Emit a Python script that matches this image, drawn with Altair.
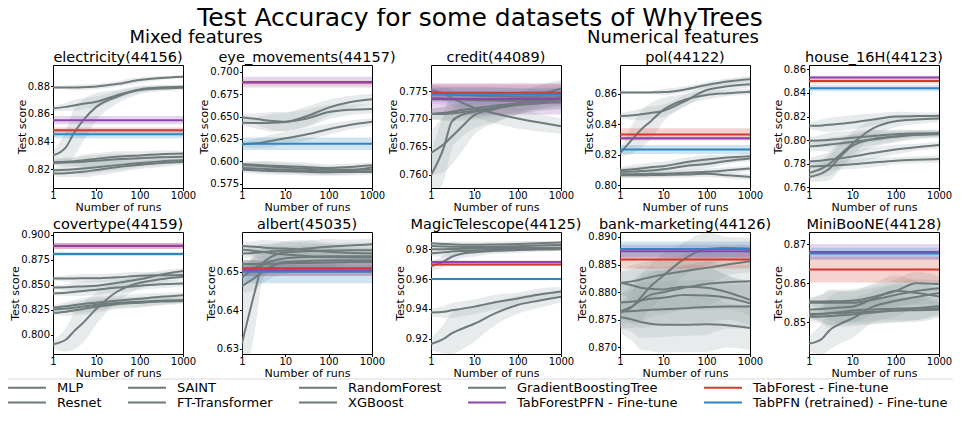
import altair as alt
import pandas as pd

FONT = "DejaVu Sans"
X_RUNS = [1, 2, 3, 5, 10, 30, 100, 300, 1000]
GRAY_MODELS = ["MLP", "Resnet", "SAINT", "FT-Transformer", "RandomForest", "XGBoost", "GradientBoostingTree"]
TAB_MODELS = ["TabForest - Fine-tune", "TabForestPFN - Fine-tune", "TabPFN (retrained) - Fine-tune"]
LEGEND_ORDER = ["MLP", "Resnet", "SAINT", "FT-Transformer", "RandomForest", "XGBoost",
                "GradientBoostingTree", "TabForestPFN - Fine-tune", "TabForest - Fine-tune",
                "TabPFN (retrained) - Fine-tune"]
GRAY = "#6e7a7b"
BAND_GRAY = "#95a5a6"
TAB_COLORS = ["#d0392b", "#8e44ad", "#2e86c1"]
LEGEND_COLORS = [GRAY] * 7 + [TAB_COLORS[1], TAB_COLORS[0], TAB_COLORS[2]]

TITLES = ["electricity(44156)", "eye_movements(44157)", "credit(44089)", "pol(44122)", "house_16H(44123)",
          "covertype(44159)", "albert(45035)", "MagicTelescope(44125)", "bank-marketing(44126)", "MiniBooNE(44128)"]

# ---------------- electricity
ELEC_MEAN = [
    [0.8790, 0.8790, 0.8790, 0.8792, 0.8797, 0.8815, 0.8843, 0.8858, 0.8867],
    [0.8639, 0.8650, 0.8660, 0.8672, 0.8687, 0.8735, 0.8776, 0.8790, 0.8795],
    [0.8300, 0.8360, 0.8458, 0.8554, 0.8650, 0.8723, 0.8771, 0.8782, 0.8788],
    [0.8253, 0.8255, 0.8258, 0.8265, 0.8275, 0.8290, 0.8300, 0.8308, 0.8313],
    [0.8246, 0.8248, 0.8250, 0.8255, 0.8262, 0.8272, 0.8280, 0.8286, 0.8290],
    [0.8193, 0.8196, 0.8200, 0.8205, 0.8215, 0.8230, 0.8245, 0.8257, 0.8265],
    [0.8169, 0.8172, 0.8176, 0.8182, 0.8195, 0.8215, 0.8232, 0.8245, 0.8253],
]
ELEC_HW = [
    [0.001, 0.0015, 0.002, 0.002, 0.002, 0.002, 0.002, 0.0015, 0.001],
    [0.002, 0.003, 0.004, 0.004, 0.004, 0.003, 0.002, 0.002, 0.0015],
    [0.003, 0.012, 0.017, 0.015, 0.010, 0.005, 0.003, 0.002, 0.002],
    [0.002, 0.003, 0.003, 0.004, 0.004, 0.004, 0.003, 0.003, 0.002],
    [0.002, 0.003, 0.003, 0.004, 0.004, 0.004, 0.003, 0.003, 0.002],
    [0.002, 0.003, 0.003, 0.004, 0.004, 0.004, 0.003, 0.003, 0.002],
    [0.002, 0.003, 0.003, 0.004, 0.004, 0.004, 0.003, 0.003, 0.002],
]
ELEC_TAB = [0.8482, 0.8554, 0.8453]
ELEC_TAB_HW = [0.002, 0.003, 0.003]
ELEC_DOMAIN = [0.8065, 0.8952]
ELEC_TICKS = [0.82, 0.84, 0.86, 0.88]

# ---------------- eye_movements
EYE_MEAN = [
    [0.6490, 0.6475, 0.6462, 0.6450, 0.6441, 0.6500, 0.6600, 0.6660, 0.6694],
    [0.6430, 0.6428, 0.6428, 0.6430, 0.6440, 0.6475, 0.6550, 0.6575, 0.6585],
    [0.6190, 0.6200, 0.6210, 0.6230, 0.6256, 0.6300, 0.6358, 0.6405, 0.6441],
    [0.5969, 0.5960, 0.5955, 0.5950, 0.5945, 0.5935, 0.5924, 0.5935, 0.5954],
    [0.5954, 0.5950, 0.5945, 0.5938, 0.5930, 0.5915, 0.5905, 0.5905, 0.5905],
    [0.5924, 0.5920, 0.5915, 0.5910, 0.5905, 0.5895, 0.5886, 0.5895, 0.5931],
    [0.5905, 0.5900, 0.5895, 0.5890, 0.5888, 0.5882, 0.5878, 0.5880, 0.5880],
]
EYE_HW = [
    [0.004, 0.006, 0.008, 0.010, 0.011, 0.011, 0.009, 0.007, 0.006],
    [0.004, 0.006, 0.008, 0.010, 0.010, 0.010, 0.008, 0.006, 0.005],
    [0.003, 0.005, 0.006, 0.007, 0.007, 0.007, 0.006, 0.005, 0.004],
    [0.003, 0.004, 0.005, 0.005, 0.005, 0.005, 0.004, 0.004, 0.003],
    [0.003, 0.004, 0.005, 0.005, 0.005, 0.005, 0.004, 0.004, 0.003],
    [0.003, 0.004, 0.004, 0.004, 0.004, 0.004, 0.004, 0.004, 0.003],
    [0.003, 0.004, 0.004, 0.004, 0.004, 0.004, 0.004, 0.004, 0.003],
]
EYE_TAB = [0.6879, 0.6885, 0.6196]
EYE_TAB_HW = [0.002, 0.006, 0.007]
EYE_DOMAIN = [0.5701, 0.7076]
EYE_TICKS = [0.575, 0.600, 0.625, 0.650, 0.675, 0.700]

# ---------------- credit
CREDIT_MEAN = [
    [0.7752, 0.7745, 0.7738, 0.7730, 0.7720, 0.7710, 0.7701, 0.7694, 0.7687],
    [0.7745, 0.7745, 0.7744, 0.7743, 0.7742, 0.7741, 0.7740, 0.7739, 0.7738],
    [0.7709, 0.7709, 0.7710, 0.7712, 0.7715, 0.7720, 0.7725, 0.7728, 0.7730],
    [0.7709, 0.7711, 0.7713, 0.7716, 0.7719, 0.7724, 0.7728, 0.7732, 0.7735],
    [0.7639, 0.7655, 0.7668, 0.7685, 0.7707, 0.7718, 0.7728, 0.7742, 0.7755],
    [0.7599, 0.7650, 0.7695, 0.7707, 0.7713, 0.7720, 0.7728, 0.7734, 0.7740],
    [0.7738, 0.7737, 0.7736, 0.7735, 0.7734, 0.7733, 0.7732, 0.7731, 0.7730],
]
CREDIT_HW = [
    [0.0010, 0.0012, 0.0014, 0.0015, 0.0016, 0.0018, 0.0018, 0.0016, 0.0014],
    [0.0010, 0.0012, 0.0014, 0.0015, 0.0016, 0.0016, 0.0015, 0.0014, 0.0012],
    [0.0010, 0.0012, 0.0014, 0.0015, 0.0016, 0.0016, 0.0015, 0.0014, 0.0012],
    [0.0010, 0.0012, 0.0014, 0.0015, 0.0016, 0.0016, 0.0015, 0.0014, 0.0012],
    [0.0040, 0.0050, 0.0050, 0.0045, 0.0035, 0.0025, 0.0020, 0.0018, 0.0015],
    [0.0040, 0.0060, 0.0050, 0.0040, 0.0030, 0.0025, 0.0020, 0.0018, 0.0015],
    [0.0010, 0.0012, 0.0014, 0.0015, 0.0016, 0.0016, 0.0015, 0.0014, 0.0012],
]
CREDIT_TAB = [0.7747, 0.7736, 0.7744]
CREDIT_TAB_HW = [0.0015, 0.0028, 0.0012]
CREDIT_DOMAIN = [0.7576, 0.7797]
CREDIT_TICKS = [0.760, 0.765, 0.770, 0.775]

# ---------------- pol
POL_MEAN = [
    [0.8609, 0.8609, 0.8609, 0.8610, 0.8612, 0.8628, 0.8659, 0.8682, 0.8697],
    [0.8455, 0.8460, 0.8466, 0.8475, 0.8490, 0.8550, 0.8626, 0.8650, 0.8664],
    [0.8209, 0.8308, 0.8363, 0.8418, 0.8495, 0.8560, 0.8593, 0.8605, 0.8615],
    [0.8099, 0.8105, 0.8110, 0.8118, 0.8125, 0.8150, 0.8169, 0.8182, 0.8191],
    [0.8088, 0.8090, 0.8093, 0.8097, 0.8105, 0.8125, 0.8140, 0.8160, 0.8176],
    [0.8073, 0.8073, 0.8074, 0.8075, 0.8076, 0.8082, 0.8088, 0.8098, 0.8110],
    [0.8066, 0.8066, 0.8066, 0.8067, 0.8068, 0.8070, 0.8075, 0.8065, 0.8055],
]
POL_HW = [
    [0.001, 0.001, 0.001, 0.001, 0.002, 0.002, 0.002, 0.002, 0.002],
    [0.002, 0.003, 0.004, 0.004, 0.004, 0.004, 0.003, 0.003, 0.002],
    [0.002, 0.010, 0.012, 0.012, 0.008, 0.004, 0.003, 0.002, 0.002],
    [0.002, 0.003, 0.003, 0.003, 0.003, 0.003, 0.003, 0.002, 0.002],
    [0.002, 0.003, 0.003, 0.003, 0.003, 0.003, 0.003, 0.002, 0.002],
    [0.002, 0.002, 0.002, 0.002, 0.002, 0.002, 0.002, 0.002, 0.002],
    [0.002, 0.002, 0.002, 0.002, 0.002, 0.002, 0.002, 0.002, 0.002],
]
POL_TAB = [0.8334, 0.8308, 0.8235]
POL_TAB_HW = [0.004, 0.001, 0.003]
POL_DOMAIN = [0.7982, 0.8790]
POL_TICKS = [0.80, 0.82, 0.84, 0.86]

# ---------------- house_16H
HOUSE_MEAN = [
    [0.8121, 0.8125, 0.8130, 0.8138, 0.8150, 0.8175, 0.8200, 0.8204, 0.8206],
    [0.7994, 0.7998, 0.8003, 0.8010, 0.8020, 0.8035, 0.8050, 0.8056, 0.8060],
    [0.7947, 0.7955, 0.7962, 0.7972, 0.7985, 0.8005, 0.8030, 0.8045, 0.8053],
    [0.7820, 0.7828, 0.7835, 0.7845, 0.7860, 0.7890, 0.7920, 0.7940, 0.7958],
    [0.7777, 0.7780, 0.7783, 0.7788, 0.7795, 0.7810, 0.7825, 0.7833, 0.7839],
    [0.7721, 0.7760, 0.7800, 0.7870, 0.7970, 0.8100, 0.8160, 0.8175, 0.8183],
    [0.7687, 0.7720, 0.7760, 0.7850, 0.7950, 0.8010, 0.8030, 0.8045, 0.8050],
]
HOUSE_HW = [
    [0.003, 0.005, 0.006, 0.006, 0.006, 0.005, 0.004, 0.003, 0.003],
    [0.003, 0.005, 0.006, 0.006, 0.006, 0.005, 0.004, 0.003, 0.003],
    [0.003, 0.005, 0.006, 0.006, 0.006, 0.005, 0.004, 0.003, 0.003],
    [0.003, 0.005, 0.006, 0.006, 0.006, 0.005, 0.004, 0.003, 0.003],
    [0.003, 0.004, 0.004, 0.004, 0.004, 0.004, 0.003, 0.003, 0.003],
    [0.004, 0.007, 0.010, 0.011, 0.010, 0.007, 0.005, 0.004, 0.003],
    [0.004, 0.007, 0.010, 0.011, 0.010, 0.007, 0.005, 0.004, 0.003],
]
HOUSE_TAB = [0.8501, 0.8530, 0.8440]
HOUSE_TAB_HW = [0.002, 0.0015, 0.0025]
HOUSE_DOMAIN = [0.7594, 0.8637]
HOUSE_TICKS = [0.76, 0.78, 0.80, 0.82, 0.84, 0.86]

# ---------------- covertype
COVER_MEAN = [
    [0.8564, 0.8564, 0.8564, 0.8565, 0.8566, 0.8575, 0.8590, 0.8595, 0.8597],
    [0.8473, 0.8476, 0.8480, 0.8484, 0.8490, 0.8520, 0.8555, 0.8600, 0.8638],
    [0.8413, 0.8420, 0.8428, 0.8438, 0.8450, 0.8472, 0.8490, 0.8505, 0.8513],
    [0.8272, 0.8285, 0.8295, 0.8308, 0.8320, 0.8340, 0.8360, 0.8380, 0.8396],
    [0.8252, 0.8262, 0.8270, 0.8282, 0.8300, 0.8318, 0.8330, 0.8340, 0.8346],
    [0.8218, 0.8230, 0.8242, 0.8258, 0.8280, 0.8305, 0.8320, 0.8332, 0.8338],
    [0.7903, 0.7950, 0.8030, 0.8120, 0.8260, 0.8430, 0.8520, 0.8555, 0.8580],
]
COVER_HW = [
    [0.002, 0.003, 0.004, 0.004, 0.004, 0.004, 0.004, 0.003, 0.003],
    [0.002, 0.003, 0.004, 0.005, 0.005, 0.005, 0.005, 0.004, 0.003],
    [0.002, 0.003, 0.004, 0.005, 0.005, 0.005, 0.004, 0.004, 0.003],
    [0.002, 0.004, 0.005, 0.006, 0.006, 0.005, 0.005, 0.004, 0.003],
    [0.002, 0.004, 0.005, 0.006, 0.006, 0.005, 0.005, 0.004, 0.003],
    [0.002, 0.004, 0.005, 0.006, 0.006, 0.005, 0.005, 0.004, 0.003],
    [0.004, 0.012, 0.018, 0.020, 0.016, 0.010, 0.006, 0.004, 0.003],
]
COVER_TAB = [0.8890, 0.8893, 0.8809]
COVER_TAB_HW = [0.003, 0.003, 0.002]
COVER_DOMAIN = [0.7805, 0.9030]
COVER_TICKS = [0.800, 0.825, 0.850, 0.875, 0.900]

# ---------------- albert
ALBERT_MEAN = [
    [0.6567, 0.6565, 0.6563, 0.6561, 0.6560, 0.6556, 0.6552, 0.6549, 0.6547],
    [0.6558, 0.6554, 0.6551, 0.6548, 0.6545, 0.6541, 0.6538, 0.6537, 0.6537],
    [0.6547, 0.6549, 0.6551, 0.6553, 0.6555, 0.6560, 0.6565, 0.6568, 0.6571],
    [0.6485, 0.6510, 0.6520, 0.6528, 0.6535, 0.6538, 0.6540, 0.6540, 0.6540],
    [0.6463, 0.6485, 0.6500, 0.6515, 0.6525, 0.6528, 0.6530, 0.6530, 0.6530],
    [0.6315, 0.6450, 0.6520, 0.6540, 0.6550, 0.6553, 0.6555, 0.6556, 0.6556],
    [0.6520, 0.6520, 0.6521, 0.6521, 0.6522, 0.6523, 0.6524, 0.6525, 0.6525],
]
ALBERT_HW = [
    [0.001, 0.0015, 0.002, 0.002, 0.002, 0.002, 0.002, 0.0015, 0.0015],
    [0.001, 0.0015, 0.002, 0.002, 0.002, 0.002, 0.002, 0.0015, 0.0015],
    [0.001, 0.0015, 0.002, 0.002, 0.002, 0.002, 0.002, 0.0015, 0.0015],
    [0.002, 0.003, 0.003, 0.003, 0.003, 0.003, 0.003, 0.002, 0.002],
    [0.002, 0.003, 0.003, 0.003, 0.003, 0.003, 0.003, 0.002, 0.002],
    [0.013, 0.010, 0.004, 0.003, 0.003, 0.003, 0.002, 0.002, 0.002],
    [0.001, 0.0015, 0.002, 0.002, 0.002, 0.002, 0.002, 0.0015, 0.0015],
]
ALBERT_TAB = [0.6509, 0.6504, 0.6500]
ALBERT_TAB_HW = [0.002, 0.0015, 0.003]
ALBERT_DOMAIN = [0.6287, 0.6603]
ALBERT_TICKS = [0.63, 0.64, 0.65]

# ---------------- MagicTelescope
MAGIC_MEAN = [
    [0.9840, 0.9836, 0.9833, 0.9831, 0.9830, 0.9832, 0.9835, 0.9840, 0.9845],
    [0.9822, 0.9819, 0.9817, 0.9816, 0.9815, 0.9817, 0.9820, 0.9825, 0.9829],
    [0.9800, 0.9801, 0.9802, 0.9803, 0.9805, 0.9808, 0.9810, 0.9811, 0.9811],
    [0.9773, 0.9780, 0.9785, 0.9788, 0.9790, 0.9798, 0.9805, 0.9808, 0.9810],
    [0.9685, 0.9720, 0.9750, 0.9770, 0.9780, 0.9790, 0.9795, 0.9798, 0.9800],
    [0.9375, 0.9380, 0.9390, 0.9400, 0.9415, 0.9445, 0.9470, 0.9495, 0.9516],
    [0.9164, 0.9200, 0.9236, 0.9265, 0.9300, 0.9370, 0.9426, 0.9455, 0.9482],
]
MAGIC_HW = [
    [0.001, 0.0015, 0.002, 0.002, 0.002, 0.002, 0.002, 0.0015, 0.001],
    [0.001, 0.0015, 0.002, 0.002, 0.002, 0.002, 0.002, 0.0015, 0.001],
    [0.001, 0.0015, 0.002, 0.002, 0.002, 0.002, 0.002, 0.0015, 0.001],
    [0.002, 0.003, 0.003, 0.003, 0.002, 0.002, 0.002, 0.0015, 0.001],
    [0.003, 0.004, 0.004, 0.003, 0.003, 0.002, 0.002, 0.0015, 0.001],
    [0.003, 0.004, 0.005, 0.005, 0.005, 0.005, 0.004, 0.004, 0.003],
    [0.004, 0.010, 0.014, 0.014, 0.012, 0.008, 0.006, 0.005, 0.004],
]
MAGIC_TAB = [0.9697, 0.9715, 0.9600]
MAGIC_TAB_HW = [0.001, 0.001, 0.0008]
MAGIC_DOMAIN = [0.9097, 0.9916]
MAGIC_TICKS = [0.92, 0.94, 0.96, 0.98]

# ---------------- bank-marketing
BANK_MEAN = [
    [0.8817, 0.8812, 0.8808, 0.8806, 0.8805, 0.8810, 0.8808, 0.8800, 0.8786],
    [0.8817, 0.8820, 0.8823, 0.8827, 0.8832, 0.8838, 0.8844, 0.8850, 0.8856],
    [0.8763, 0.8775, 0.8790, 0.8810, 0.8830, 0.8860, 0.8878, 0.8880, 0.8879],
    [0.8781, 0.8783, 0.8785, 0.8788, 0.8790, 0.8795, 0.8794, 0.8790, 0.8780],
    [0.8765, 0.8766, 0.8767, 0.8768, 0.8769, 0.8771, 0.8773, 0.8774, 0.8774],
    [0.8755, 0.8750, 0.8746, 0.8743, 0.8741, 0.8741, 0.8742, 0.8740, 0.8735],
    [0.8765, 0.8775, 0.8785, 0.8795, 0.8800, 0.8808, 0.8815, 0.8818, 0.8820],
]
BANK_HW = [
    [0.002, 0.003, 0.004, 0.004, 0.004, 0.004, 0.004, 0.003, 0.003],
    [0.002, 0.003, 0.003, 0.003, 0.003, 0.003, 0.003, 0.002, 0.002],
    [0.002, 0.003, 0.004, 0.004, 0.004, 0.003, 0.003, 0.002, 0.002],
    [0.003, 0.004, 0.005, 0.005, 0.005, 0.005, 0.005, 0.004, 0.004],
    [0.003, 0.004, 0.005, 0.005, 0.005, 0.005, 0.005, 0.004, 0.004],
    [0.003, 0.004, 0.005, 0.005, 0.005, 0.005, 0.005, 0.004, 0.004],
    [0.003, 0.004, 0.004, 0.004, 0.004, 0.004, 0.004, 0.003, 0.003],
]
BANK_TAB = [0.8859, 0.8874, 0.8878]
BANK_TAB_HW = [0.0016, 0.0012, 0.0014]
BANK_DOMAIN = [0.8688, 0.8909]
BANK_TICKS = [0.870, 0.875, 0.880, 0.885, 0.890]

# ---------------- MiniBooNE
MINI_MEAN = [
    [0.8553, 0.8553, 0.8554, 0.8554, 0.8555, 0.8565, 0.8580, 0.8600, 0.8598],
    [0.8550, 0.8550, 0.8550, 0.8550, 0.8550, 0.8558, 0.8570, 0.8580, 0.8587],
    [0.8533, 0.8534, 0.8536, 0.8538, 0.8540, 0.8560, 0.8580, 0.8575, 0.8566],
    [0.8521, 0.8522, 0.8523, 0.8524, 0.8525, 0.8527, 0.8530, 0.8536, 0.8542],
    [0.8519, 0.8521, 0.8523, 0.8526, 0.8530, 0.8533, 0.8535, 0.8536, 0.8536],
    [0.8514, 0.8515, 0.8516, 0.8518, 0.8520, 0.8525, 0.8530, 0.8531, 0.8532],
    [0.8445, 0.8458, 0.8480, 0.8495, 0.8510, 0.8540, 0.8555, 0.8565, 0.8575],
]
MINI_HW = [
    [0.001, 0.002, 0.003, 0.003, 0.003, 0.003, 0.003, 0.003, 0.002],
    [0.001, 0.002, 0.003, 0.003, 0.003, 0.003, 0.003, 0.003, 0.002],
    [0.001, 0.002, 0.003, 0.004, 0.004, 0.004, 0.004, 0.003, 0.002],
    [0.001, 0.002, 0.003, 0.003, 0.003, 0.003, 0.003, 0.003, 0.002],
    [0.001, 0.002, 0.003, 0.003, 0.003, 0.003, 0.003, 0.003, 0.002],
    [0.001, 0.002, 0.003, 0.003, 0.003, 0.003, 0.003, 0.003, 0.002],
    [0.002, 0.004, 0.005, 0.005, 0.005, 0.004, 0.004, 0.003, 0.003],
]
MINI_TAB = [0.8635, 0.8680, 0.8676]
MINI_TAB_HW = [0.0033, 0.002, 0.0015]
MINI_DOMAIN = [0.8419, 0.8731]
MINI_TICKS = [0.85, 0.86, 0.87]

PANELS = [
    (ELEC_MEAN, ELEC_HW, ELEC_TAB, ELEC_TAB_HW, ELEC_DOMAIN, ELEC_TICKS, ".2f"),
    (EYE_MEAN, EYE_HW, EYE_TAB, EYE_TAB_HW, EYE_DOMAIN, EYE_TICKS, ".3f"),
    (CREDIT_MEAN, CREDIT_HW, CREDIT_TAB, CREDIT_TAB_HW, CREDIT_DOMAIN, CREDIT_TICKS, ".3f"),
    (POL_MEAN, POL_HW, POL_TAB, POL_TAB_HW, POL_DOMAIN, POL_TICKS, ".2f"),
    (HOUSE_MEAN, HOUSE_HW, HOUSE_TAB, HOUSE_TAB_HW, HOUSE_DOMAIN, HOUSE_TICKS, ".2f"),
    (COVER_MEAN, COVER_HW, COVER_TAB, COVER_TAB_HW, COVER_DOMAIN, COVER_TICKS, ".3f"),
    (ALBERT_MEAN, ALBERT_HW, ALBERT_TAB, ALBERT_TAB_HW, ALBERT_DOMAIN, ALBERT_TICKS, ".2f"),
    (MAGIC_MEAN, MAGIC_HW, MAGIC_TAB, MAGIC_TAB_HW, MAGIC_DOMAIN, MAGIC_TICKS, ".2f"),
    (BANK_MEAN, BANK_HW, BANK_TAB, BANK_TAB_HW, BANK_DOMAIN, BANK_TICKS, ".3f"),
    (MINI_MEAN, MINI_HW, MINI_TAB, MINI_TAB_HW, MINI_DOMAIN, MINI_TICKS, ".2f"),
]

MAIN_TITLE = "Test Accuracy for some datasets of WhyTrees"
GROUP_TITLES = ["Mixed features", "Numerical features"]

PANEL_W = 130
ROW_H = [123, 122]

color_scale = alt.Scale(domain=LEGEND_ORDER, range=LEGEND_COLORS)
legend = alt.Legend(orient="none", legendX=-45, legendY=316, columns=5, title=None, direction="vertical",
                    symbolType="M-4,0H4", symbolSize=90.25, symbolStrokeWidth=2, symbolOffset=12.5,
                    labelFontSize=13, labelFont=FONT, labelColor="black", labelOffset=23.5,
                    columnPadding=22, rowPadding=1, padding=0, labelLimit=400)
fill_scale = alt.Scale(domain=TAB_MODELS, range=TAB_COLORS)


def text_layer(txt, x, y, size):
    return alt.Chart(pd.DataFrame({"t": [txt]})).mark_text(
        font=FONT, fontSize=size, color="black", align="center", baseline="alphabetic").encode(
        text="t:N", x=alt.value(x), y=alt.value(y))


def make_panel(title, spec, height, extra=()):
    means, hws, tab, tab_hw, domain, ticks, fmt = spec
    rows = []
    for name, m, h in zip(GRAY_MODELS, means, hws):
        for x, v, d in zip(X_RUNS, m, h):
            rows.append({"model": name, "x": x, "y": v, "lo": v - d, "hi": v + d})
    gdf = pd.DataFrame(rows)
    tdf = pd.DataFrame({"model": TAB_MODELS, "y": tab,
                        "lo": [v - d for v, d in zip(tab, tab_hw)],
                        "hi": [v + d for v, d in zip(tab, tab_hw)]})
    yscale = alt.Scale(domain=domain, nice=False, zero=False)
    xscale = alt.Scale(type="log", domain=[1, 1000], nice=False)
    yaxis = alt.Axis(values=ticks, format=fmt, title="Test score")
    xaxis = alt.Axis(values=[1, 10, 100, 1000], format="d", title="Number of runs")
    X = alt.X("x:Q", scale=xscale, axis=xaxis)

    bands = alt.Chart(gdf).mark_area(clip=True, opacity=0.22, interpolate="monotone").encode(
        x=X, y=alt.Y("lo:Q", scale=yscale, axis=yaxis), y2="hi:Q",
        detail="model:N", color=alt.value(BAND_GRAY))
    tband = alt.Chart(tdf).mark_rect(clip=True, opacity=0.22).encode(
        y=alt.Y("lo:Q", scale=yscale, axis=yaxis), y2="hi:Q",
        fill=alt.Fill("model:N", scale=fill_scale, legend=None))
    lines = alt.Chart(gdf).mark_line(clip=True, strokeWidth=2, interpolate="monotone").encode(
        x=X, y=alt.Y("y:Q", scale=yscale, axis=yaxis), detail="model:N",
        color=alt.Color("model:N", scale=color_scale, legend=legend))
    tlines = alt.Chart(tdf).mark_rule(clip=True, strokeWidth=2).encode(
        y=alt.Y("y:Q", scale=yscale, axis=yaxis),
        color=alt.Color("model:N", scale=color_scale, legend=legend))
    ttl = text_layer(title, PANEL_W / 2, -3.3, 14.5)
    layers = [bands, tband, lines, tlines, ttl] + list(extra)
    return alt.layer(*layers).properties(width=PANEL_W, height=height)


frame_line = alt.Chart(pd.DataFrame({"a": [0]})).mark_rule(color="#d9d9d9", strokeWidth=1).encode(
    x=alt.value(-46), x2=alt.value(900), y=alt.value(314))

extras0 = [text_layer(MAIN_TITLE, 427, -39, 25),
           text_layer(GROUP_TITLES[0], 143, -21.7, 18),
           text_layer(GROUP_TITLES[1], 620, -21.7, 18),
           frame_line]

panels = []
for i, (t, spec) in enumerate(zip(TITLES, PANELS)):
    h = ROW_H[0] if i < 5 else ROW_H[1]
    panels.append(make_panel(t, spec, h, extras0 if i == 0 else ()))

chart = alt.concat(*panels, columns=5, spacing={"row": 44, "column": 59}, bounds="flush").properties(
    autosize=alt.AutoSizeParams(type="none"),
    padding={"left": 45, "top": 57, "right": 900, "bottom": 346}).configure_view(
    stroke="black", strokeWidth=1).configure_axis(
    grid=False, domain=False, tickColor="black", tickSize=2.5, tickWidth=1,
    labelFont=FONT, labelFontSize=10, labelColor="black",
    titleFont=FONT, titleFontSize=11, titleFontWeight="normal", titleColor="black"
).configure_axisX(labelFlush=False, labelOverlap=False, labelPadding=0, titlePadding=1
).configure_axisY(labelPadding=1, titlePadding=0)

chart.save("out.html", embed_options={"renderer": "svg", "actions": False})
